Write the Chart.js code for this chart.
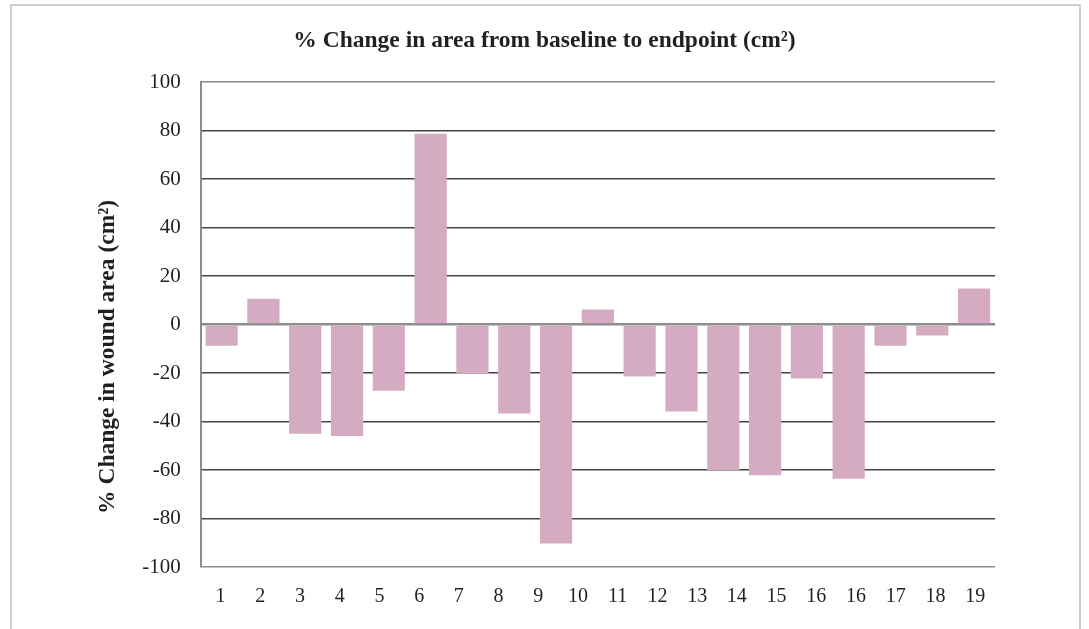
<!DOCTYPE html>
<html>
<head>
<meta charset="utf-8">
<script src="https://cdn.jsdelivr.net/npm/chart.js@4.4.1/dist/chart.umd.min.js"></script>
<style>
  html, body { margin: 0; padding: 0; background: #fff; }
  #frame { position: absolute; left: 10px; top: 4px; width: 1067px; height: 700px; border: 2px solid #cfcfcf; }
  #wrap { position: absolute; left: 0; top: 0; width: 1089px; height: 629px; }
</style>
</head>
<body>
<div id="frame"></div>
<div id="wrap"><canvas id="chartArea"></canvas></div>
<script>
// valeurs (% de variation de la surface)
const patients = ['1','2','3','4','5','6','7','8','9','10','11','12','13','14','15','16','17','18','19'];
const variation = [-8.7, 10.7, -45.0, -46.0, -27.3, 78.7, -20.2, -36.7, -90.3, 6.2, -21.4, -35.9, -60.0, -62.1, -22.2, -63.6, -8.7, -4.5, 14.9];
// étiquettes de l'axe telles qu'imprimées (16 en double)
const axisLabels = ['1','2','3','4','5','6','7','8','9','10','11','12','13','14','15','16','16','17','18','19'];

const serif = '"Liberation Serif", "DejaVu Serif", serif';
const textColor = '#231f20';

const ctx = document.getElementById('chartArea').getContext('2d');
new Chart(ctx, {
  type: 'bar',
  data: {
    labels: patients,
    datasets: [{
      label: '% Change',
      data: variation,
      backgroundColor: '#d5abc2',
      borderWidth: 0,
      barPercentage: 0.77,
      categoryPercentage: 1.0
    }]
  },
  options: {
    responsive: true,
    maintainAspectRatio: false,
    animation: false,
    layout: { padding: { left: 94, right: 94, top: 0, bottom: 10 } },
    plugins: {
      legend: { display: false },
      tooltip: { enabled: false },
      title: {
        display: true,
        text: '% Change in area from baseline to endpoint (cm²)',
        color: textColor,
        font: { family: serif, size: 23.5, weight: 'bold' },
        padding: { top: 27, bottom: 27 }
      }
    },
    scales: {
      x: {
        display: false
      },
      x2: {
        type: 'category',
        labels: axisLabels,
        position: 'bottom',
        offset: true,
        grid: { display: false },
        border: { display: false },
        ticks: { color: textColor, font: { family: serif, size: 20 }, padding: 10, maxRotation: 0, autoSkip: false }
      },
      y: {
        min: -100,
        max: 100,
        ticks: { stepSize: 20, color: textColor, font: { family: serif, size: 21 }, padding: 20 },
        border: { display: true, color: '#8c8c8c', width: 2 },
        grid: {
          drawTicks: false,
          color: c => (c.tick.value === 0 || Math.abs(c.tick.value) === 100) ? '#8c8c8c' : '#444',
          lineWidth: c => c.tick.value === 0 ? 2.5 : 1.5
        },
        title: {
          display: true,
          // espaces insécables en fin : le titre est décalé vers le bas dans l'original
          text: '% Change in wound area (cm²)' + '\u00a0'.repeat(11),
          color: textColor,
          font: { family: serif, size: 23.5, weight: 'bold' },
          padding: { top: 0, bottom: 0 }
        }
      }
    }
  }
});
</script>
</body>
</html>
